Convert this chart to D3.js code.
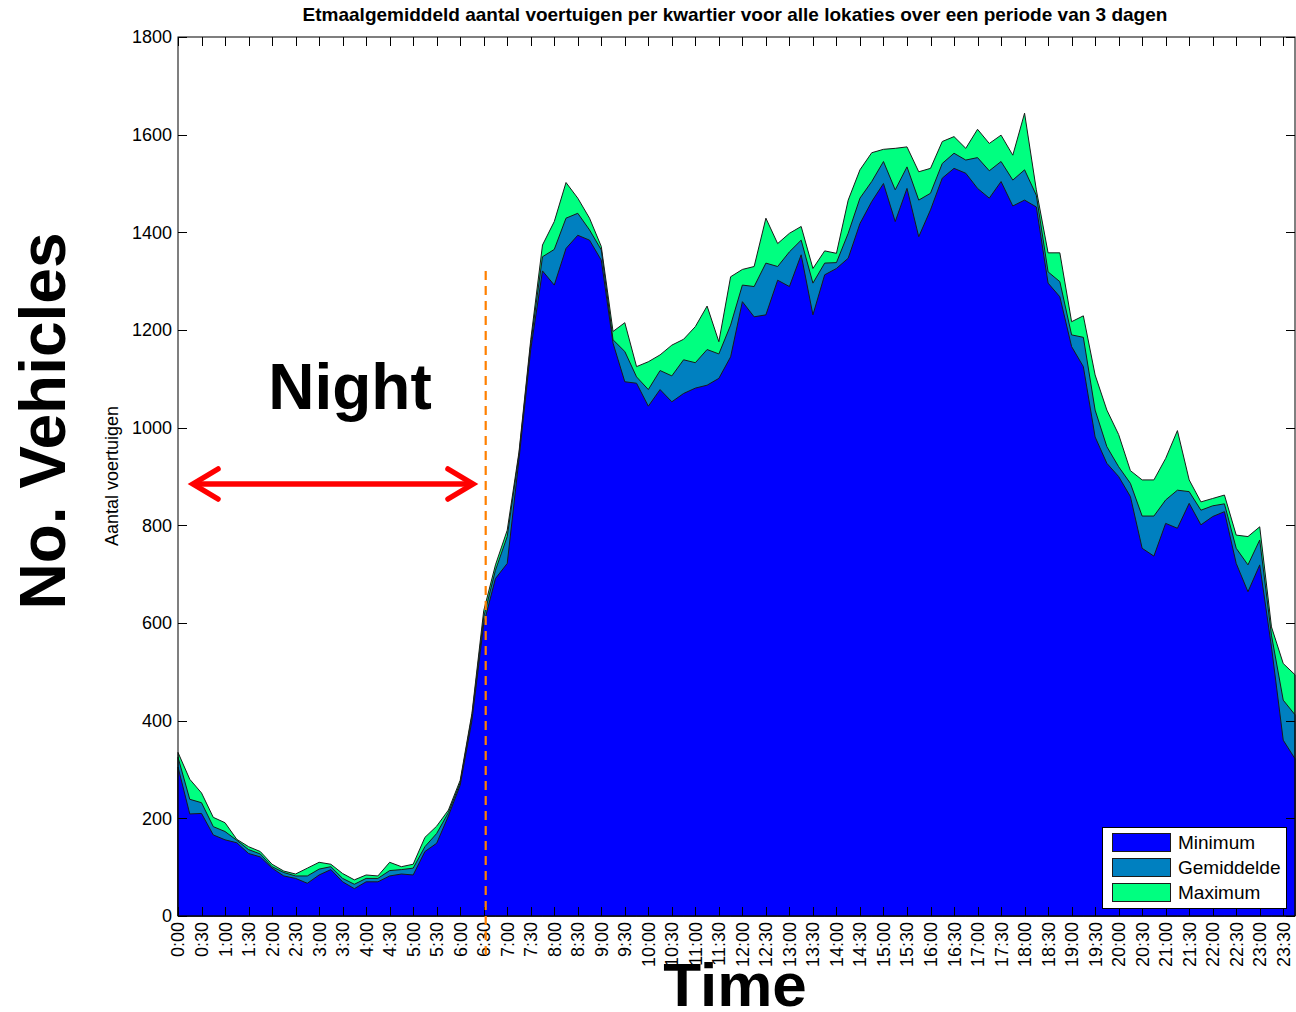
<!DOCTYPE html>
<html><head><meta charset="utf-8">
<script src="https://cdn.jsdelivr.net/npm/d3@7"></script>
<style>body{margin:0;background:#fff}svg{display:block}text{font-family:"Liberation Sans",Arial,sans-serif}</style>
</head><body>
<svg id="c" width="1296" height="1012"></svg>
<script>
const timeLabels = ["0:00","0:30","1:00","1:30","2:00","2:30","3:00","3:30","4:00","4:30","5:00","5:30","6:00","6:30","7:00","7:30","8:00","8:30","9:00","9:30","10:00","10:30","11:00","11:30","12:00","12:30","13:00","13:30","14:00","14:30","15:00","15:30","16:00","16:30","17:00","17:30","18:00","18:30","19:00","19:30","20:00","20:30","21:00","21:30","22:00","22:30","23:00","23:30"];
const yTicks = [0,200,400,600,800,1000,1200,1400,1600,1800];
const seriesNames = ["Minimum","Gemiddelde","Maximum"];
const seriesColors = ["#0000ff","#0080c0","#00ff80"];
const minimum = [305,209,210,166,156,150,128,121,98,82,77,67,84,95,70,56,70,70,82,86,84,132,149,205,268,400,598,691,722,935,1160,1321,1292,1367,1394,1384,1343,1173,1094,1091,1044,1078,1053,1070,1081,1087,1101,1145,1258,1227,1231,1302,1289,1354,1231,1313,1326,1347,1418,1463,1500,1422,1490,1391,1446,1511,1531,1521,1490,1470,1504,1454,1466,1452,1296,1268,1166,1125,981,927,900,859,753,737,804,794,845,801,818,828,722,664,719,551,360,322];
const gemiddelde = [325,239,232,183,173,155,136,127,101,89,82,82,96,101,77,65,77,77,93,95,98,142,169,212,273,410,612,708,777,945,1172,1350,1365,1429,1439,1405,1364,1180,1156,1104,1078,1117,1106,1139,1133,1160,1151,1210,1292,1289,1337,1330,1360,1384,1296,1337,1338,1398,1470,1504,1545,1487,1534,1466,1480,1541,1562,1548,1553,1526,1545,1507,1528,1476,1319,1299,1190,1185,1036,961,920,886,819,819,852,872,869,831,840,844,753,719,770,575,442,412];
const maximum = [335,280,252,202,191,157,142,132,106,92,86,98,110,106,87,74,84,82,110,101,106,161,184,217,278,415,625,719,790,950,1180,1374,1422,1502,1470,1429,1371,1197,1215,1125,1135,1149,1169,1181,1207,1249,1176,1309,1324,1330,1429,1377,1398,1412,1326,1362,1357,1466,1528,1563,1570,1572,1575,1524,1531,1586,1596,1572,1611,1582,1599,1558,1644,1487,1358,1358,1217,1229,1108,1036,986,912,893,893,937,994,893,848,855,862,780,777,797,592,517,494];

const svg = d3.select("#c");
const L=178,R=1295,T=37,B=916;
const x = d3.scaleLinear().domain([0, minimum.length-1]).range([L,R]);
const y = d3.scaleLinear().domain([0,1800]).range([B,T]);

const series = [minimum, gemiddelde, maximum];
const area = d3.area().x((d,i)=>x(i)).y0(y(0)).y1(d=>y(d));
[2,1,0].forEach(k=>{
  svg.append("path").attr("d", area(series[k])).attr("fill", seriesColors[k])
    .attr("stroke","#1a1a1a").attr("stroke-width",1).attr("stroke-linejoin","round");
});

svg.append("rect").attr("x",L).attr("y",T).attr("width",R-L).attr("height",B-T)
  .attr("fill","none").attr("stroke","#000").attr("stroke-width",1);

const tl = 9;
yTicks.forEach(v=>{
  const yy = Math.round(y(v))+0.5;
  svg.append("line").attr("x1",L).attr("x2",L+tl).attr("y1",yy).attr("y2",yy).attr("stroke","#000");
  svg.append("line").attr("x1",R-tl).attr("x2",R).attr("y1",yy).attr("y2",yy).attr("stroke","#000");
  svg.append("text").attr("x",L-6).attr("y",y(v)).attr("dy","0.36em").attr("text-anchor","end")
    .attr("font-size",18).text(v);
});
timeLabels.forEach((lab,j)=>{
  const xx = Math.round(x(j*2))+0.5;
  svg.append("line").attr("x1",xx).attr("x2",xx).attr("y1",B).attr("y2",B-tl).attr("stroke","#000");
  svg.append("line").attr("x1",xx).attr("x2",xx).attr("y1",T).attr("y2",T+tl).attr("stroke","#000");
  svg.append("text").attr("transform",`translate(${x(j*2)},${B+6}) rotate(-90)`)
    .attr("dy","0.36em").attr("text-anchor","end").attr("font-size",18).text(lab);
});

svg.append("text").attr("x",735).attr("y",21).attr("text-anchor","middle")
  .attr("font-size",19).attr("font-weight","bold")
  .text("Etmaalgemiddeld aantal voertuigen per kwartier voor alle lokaties over een periode van 3 dagen");
svg.append("text").attr("transform","translate(118,476) rotate(-90)").attr("text-anchor","middle")
  .attr("font-size",18).text("Aantal voertuigen");
svg.append("text").attr("transform","translate(65,421) rotate(-90)").attr("text-anchor","middle")
  .attr("font-size",64).attr("font-weight","bold").text("No. Vehicles");
svg.append("text").attr("x",735).attr("y",1006).attr("text-anchor","middle")
  .attr("font-size",62).attr("font-weight","bold").text("Time");
svg.append("text").attr("x",350).attr("y",409).attr("text-anchor","middle")
  .attr("font-size",64).attr("font-weight","bold").text("Night");

svg.append("line").attr("x1",x(26)+2).attr("x2",x(26)+2).attr("y1",271).attr("y2",955)
  .attr("stroke","#ff8000").attr("stroke-width",2.2).attr("stroke-dasharray","9,6");

const ay=484;
svg.append("line").attr("x1",194).attr("x2",470).attr("y1",ay).attr("y2",ay)
  .attr("stroke","#ff0000").attr("stroke-width",5.5);
svg.append("path").attr("d",`M218,${ay-15} L193,${ay} L218,${ay+15} M448,${ay-15} L473,${ay} L448,${ay+15}`)
  .attr("fill","none").attr("stroke","#ff0000").attr("stroke-width",5.5).attr("stroke-linecap","round").attr("stroke-linejoin","miter");

const lg = svg.append("g");
lg.append("rect").attr("x",1102.5).attr("y",827.5).attr("width",184).attr("height",81)
  .attr("fill","#fff").attr("stroke","#000");
seriesNames.forEach((n,k)=>{
  const yy = 833 + k*25;
  lg.append("rect").attr("x",1112.5).attr("y",yy+0.5).attr("width",58).attr("height",18)
    .attr("fill",seriesColors[k]).attr("stroke","#1a1a1a");
  lg.append("text").attr("x",1178).attr("y",yy+9).attr("dy","0.36em").attr("font-size",19).text(n);
});
</script>
</body></html>
